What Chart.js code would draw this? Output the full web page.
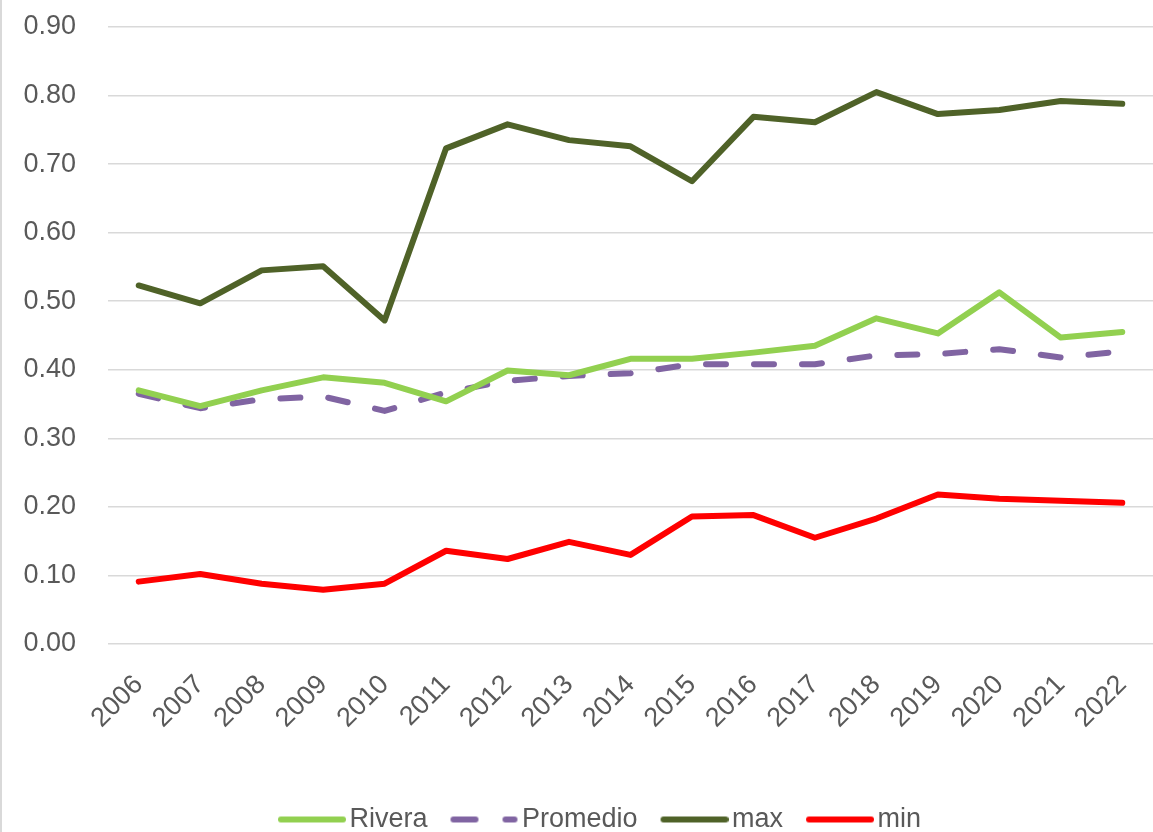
<!DOCTYPE html>
<html>
<head>
<meta charset="utf-8">
<script src="https://cdn.jsdelivr.net/npm/chart.js@4.4.0/dist/chart.umd.min.js"></script>
<style>
  html, body { margin: 0; padding: 0; background: #ffffff; }
  #wrap { position: relative; width: 1151px; height: 832px; border-left: 2px solid #d9d9d9; }
  canvas { display: block; }
</style>
</head>
<body>
<div id="wrap"><canvas id="c" width="1151" height="832"></canvas></div>
<script>
const years = ["2006","2007","2008","2009","2010","2011","2012","2013","2014","2015","2016","2017","2018","2019","2020","2021","2022"];
const rivera   = [0.370,0.347,0.370,0.389,0.381,0.354,0.399,0.392,0.416,0.416,0.425,0.435,0.475,0.453,0.513,0.447,0.455];
const promedio = [0.365,0.344,0.357,0.361,0.340,0.367,0.384,0.391,0.395,0.408,0.408,0.408,0.421,0.423,0.430,0.418,0.427];
const maxVals  = [0.523,0.497,0.545,0.551,0.472,0.723,0.758,0.735,0.726,0.675,0.769,0.761,0.805,0.773,0.779,0.792,0.788];
const minVals  = [0.091,0.102,0.088,0.079,0.088,0.136,0.124,0.149,0.130,0.186,0.188,0.155,0.183,0.218,0.212,0.209,0.206];
const yTicks = { min: 0, max: 0.9, step: 0.1 };

const textColor = '#595959';
const fontFamily = '"Liberation Sans", Arial, sans-serif';
const LW = 6;

function ds(label, data, color, dash) {
  return {
    label: label,
    data: data,
    borderColor: color,
    backgroundColor: color,
    borderWidth: LW,
    borderDash: dash || [],
    borderCapStyle: 'round',
    borderJoinStyle: 'round',
    pointRadius: 0,
    pointHoverRadius: 0,
    pointStyle: 'line',
    tension: 0,
    fill: false
  };
}

// legend sample images (line sample drawn slightly wider than the box so text sits close)
function sample(color, dashed) {
  const c = document.createElement('canvas');
  c.width = 78; c.height = 10;
  const g = c.getContext('2d');
  g.strokeStyle = color; g.lineWidth = LW; g.lineCap = 'round';
  g.beginPath();
  if (dashed) {
    g.moveTo(10 + 3, 5); g.lineTo(10 + 25, 5);
    g.moveTo(10 + 55, 5); g.lineTo(10 + 64, 5);
  } else {
    g.moveTo(10 + 3, 5); g.lineTo(78 - 3, 5);
  }
  g.stroke();
  return c;
}

const datasets = [
  ds('Rivera', rivera, '#92D050'),
  ds('Promedio', promedio, '#8064A2', [20, 28]),
  ds('max', maxVals, '#4F6228'),
  ds('min', minVals, '#FF0000')
];
const samples = [
  sample('#92D050', false),
  sample('#8064A2', true),
  sample('#4F6228', false),
  sample('#FF0000', false)
];

// nudge legend box (right / down) to match the reference placement
const legendShift = {
  id: 'legendShift',
  afterLayout: function(chart) {
    const lg = chart.legend;
    if (!lg) return;
    lg.left += 22; lg.right += 22;
    lg.top += 11; lg.bottom += 11;
  }
};

new Chart(document.getElementById('c'), {
  type: 'line',
  data: { labels: years, datasets: datasets },
  plugins: [legendShift],
  options: {
    responsive: false,
    animation: false,
    devicePixelRatio: 1,
    layout: { padding: { top: 27, right: 0, left: 0, bottom: 0 } },
    plugins: {
      tooltip: { enabled: false },
      legend: {
        position: 'bottom',
        labels: {
          usePointStyle: true,
          pointStyleWidth: 58,
          color: textColor,
          padding: 23,
          font: { family: fontFamily, size: 27 },
          generateLabels: function(chart) {
            const items = Chart.defaults.plugins.legend.labels.generateLabels(chart);
            items.forEach(function(it, i) { it.pointStyle = samples[i]; });
            return items;
          }
        }
      }
    },
    scales: {
      x: {
        offset: true,
        grid: { display: false, drawTicks: false },
        border: { display: false },
        ticks: {
          color: textColor,
          font: { family: fontFamily, size: 27 },
          minRotation: 45,
          maxRotation: 45,
          padding: 25,
          autoSkip: false
        },
        afterFit: function(scale) {
          scale.height = 128;
          scale.paddingLeft = 0;
          scale.paddingRight = 0;
        }
      },
      y: {
        min: yTicks.min,
        max: yTicks.max,
        grid: { color: '#d9d9d9', lineWidth: 1.5, drawTicks: false },
        border: { display: false },
        ticks: {
          stepSize: yTicks.step,
          color: textColor,
          padding: 32,
          font: { family: fontFamily, size: 27 },
          callback: function(v) { return Number(v).toFixed(2); }
        },
        afterFit: function(scale) {
          scale.width = 106;
          scale.paddingTop = 0;
          scale.paddingBottom = 0;
        }
      }
    }
  }
});
</script>
</body>
</html>
